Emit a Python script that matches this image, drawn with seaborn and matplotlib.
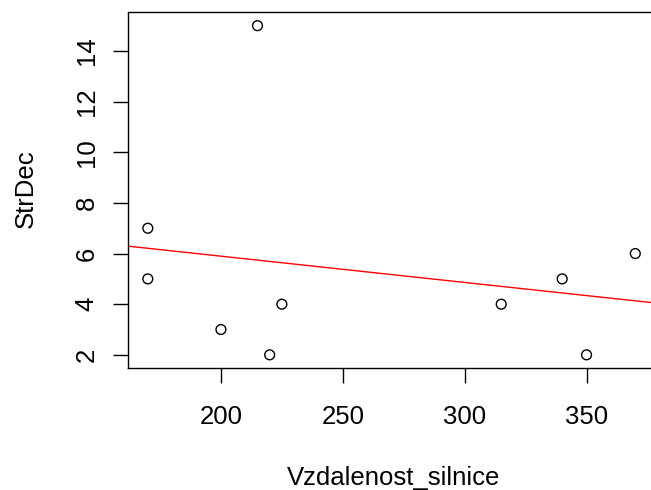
import numpy as np
import pandas as pd
import matplotlib
matplotlib.use("Agg")
import matplotlib.pyplot as plt
import seaborn as sns

vzdalenost = [170, 170, 200, 215, 220, 225, 315, 340, 350, 370]
strdec = [7, 5, 3, 15, 2, 4, 4, 5, 2, 6]
x_ticks = [200, 250, 300, 350]
y_ticks = [2, 4, 6, 8, 10, 12, 14]

df = pd.DataFrame({"Vzdalenost_silnice": vzdalenost, "StrDec": strdec})

sns.set_style("white", {"xtick.bottom": True, "ytick.left": True,
                        "xtick.color": "black", "ytick.color": "black",
                        "axes.edgecolor": "black", "text.color": "black",
                        "axes.labelcolor": "black"})
plt.rcParams["font.family"] = ["Liberation Sans", "DejaVu Sans"]
plt.rcParams.update({
    "xtick.bottom": True, "ytick.left": True,
    "xtick.major.size": 10.5, "ytick.major.size": 10.5,
    "xtick.major.width": 1.0, "ytick.major.width": 1.0,
    "xtick.direction": "out", "ytick.direction": "out",
})
FS = 18.5

W, H = 651, 490
fig = plt.figure(figsize=(W / 100, H / 100), dpi=100)
L, R, T, B = 128.3, 654.8, 12.5, 368.0
ax = fig.add_axes([L / W, (H - B) / H, (R - L) / W, (B - T) / H])

sns.scatterplot(data=df, x="Vzdalenost_silnice", y="StrDec", ax=ax,
                marker="o", s=50, facecolor="none", edgecolor="black",
                linewidth=1.0, zorder=3)

slope, intercept = np.polyfit(df["Vzdalenost_silnice"], df["StrDec"], 1)
ax.axline((0, intercept), slope=slope, color="red", lw=1.0, zorder=2)

xr = max(vzdalenost) - min(vzdalenost)
yr = max(strdec) - min(strdec)
ax.set_xlim(min(vzdalenost) - 0.04 * xr, max(vzdalenost) + 0.04 * xr)
ax.set_ylim(min(strdec) - 0.04 * yr, max(strdec) + 0.04 * yr)

ax.set_xticks(x_ticks)
ax.set_yticks(y_ticks)
ax.tick_params(axis="both", which="major", direction="out", length=10.5,
               width=1.0, color="black", labelcolor="black", labelsize=FS,
               bottom=True, left=True)
ax.tick_params(axis="x", pad=15.8)
ax.tick_params(axis="y", pad=10.7)
for lab in ax.get_yticklabels():
    lab.set_rotation(90)
    lab.set_va("center")

for sp in ax.spines.values():
    sp.set_color("black")
    sp.set_linewidth(1.0)

ax.set_xlabel("Vzdalenost_silnice", fontsize=FS)
ax.set_ylabel("StrDec", fontsize=FS)
ax.xaxis.set_label_coords(394 / W, (H - 466) / H, transform=fig.transFigure)
ax.yaxis.set_label_coords(38 / W, (H - 189) / H, transform=fig.transFigure)

fig.savefig("out.png", dpi=100)
